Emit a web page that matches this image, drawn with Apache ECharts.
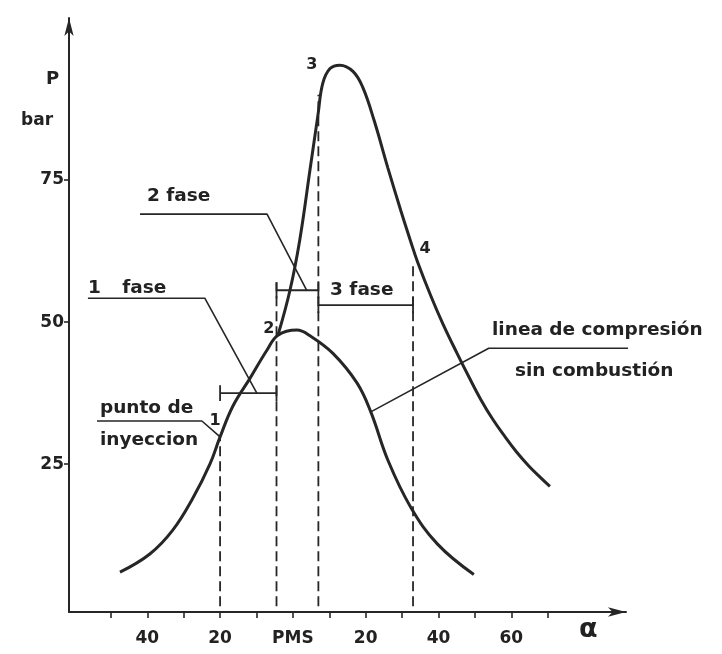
<!DOCTYPE html>
<html>
<head>
<meta charset="utf-8">
<script src="https://cdn.jsdelivr.net/npm/echarts@6/dist/echarts.min.js"></script>
<style>
  html, body { margin: 0; padding: 0; background: #ffffff; }
  #chart { width: 722px; height: 654px; }
</style>
</head>
<body>
<div id="chart"></div>
<script>
// Crank angle in degrees (negative = before PMS) and cylinder pressure in bar.

// Compression line without combustion (shared with the real cycle up to point 2)
const compressionAngle = [-47.5, -39.3, -33.0, -27.5, -22.8, -20.0, -16.5, -11.8, -7.1, -4.1, 1.1, 4.7, 11.0, 17.6, 21.4, 26.1, 32.4, 39.8, 49.7];
const compressionP     = [  6.0,   9.2,  13.4,  19.0,  25.0,  29.8,  35.2,  40.1, 45.1, 47.7, 48.6, 47.6, 44.5, 39.3, 34.2, 25.7, 17.4, 10.9,  5.6];

// Pressure with combustion, from point 2 onwards
const combustionAngle = [-4.1, -0.8,  1.9,  4.7,  6.9,  8.2, 10.2, 12.9, 16.5, 19.2, 22.3, 26.1, 29.7, 32.4, 34.3, 37.9, 41.2, 45.1, 48.4, 51.6, 54.9, 58.2, 61.5, 64.8, 68.1, 70.6];
const combustionP     = [47.7, 55.6, 64.5, 76.8, 86.5, 92.0, 94.6, 95.2, 94.1, 91.3, 85.5, 77.1, 69.5, 64.1, 60.5, 54.6, 49.7, 44.5, 40.3, 36.4, 32.9, 29.9, 27.1, 24.7, 22.6, 21.1];

// Vertical reference lines (angle, top pressure)
const markAngle = [-20, -4.5, 7, 33];
const markTop   = [29.8, 57, 90, 60];

// Combustion phases: start angle, end angle, pressure level of the bracket
const phaseStart = [-20, -4.5, 7];
const phaseEnd   = [-4.5, 7, 33];
const phaseLevel = [37.5, 55.6, 53.0];

// Axis ticks and labels
const xTickValues  = [-50, -40, -30, -20, -10, 0, 10, 20, 30, 40, 50, 60, 70];
const xLabelValues = [-40, -20, 0, 20, 40, 60];
const xLabelText   = ['40', '20', 'PMS', '20', '40', '60'];
const yTickValues  = [25, 50, 75];

// Leader lines for the notes
const leaderFase1 = [[-56.3, 54.2], [-24.2, 54.2], [-9.9, 37.5]];
const leaderFase2 = [[-42.0, 69.0], [-7.1, 69.0], [3.8, 55.6]];
const leaderInj   = [[-53.8, 32.6], [-25.0, 32.6], [-20.0, 29.8]];
const leaderComp  = [[117.9, 45.4], [53.8, 45.4], [21.4, 34.2]];

// Notes: text and anchor (left edge, vertical centre) in data space
const noteText  = ['1', 'fase', '2 fase', '3 fase', 'punto de', 'inyeccion', 'linea de compresión', 'sin combustión'];
const noteAngle = [-56.3, -46.9, -40.1, 10.2, -53.0, -53.0, 54.7, 61.0];
const noteP     = [56.0, 56.0, 72.2, 55.6, 34.9, 29.2, 48.6, 41.4];

const pointText  = ['1', '2', '3', '4'];
const pointAngle = [-21.4, -6.6, 5.2, 36.3];
const pointP     = [32.6, 48.9, 95.2, 62.9];

const INK = '#262626';
const TEXT = '#222222';
const FONT = 'DejaVu Sans';

function zip(a, b) { return a.map((v, i) => [v, b[i]]); }

function lineSeries(data, width, dashed) {
  return {
    type: 'line',
    data: data,
    symbol: 'none',
    silent: true,
    clip: false,
    animation: false,
    lineStyle: { color: INK, width: width, type: dashed ? [10, 5] : 'solid', cap: 'butt' }
  };
}

function textSeries(texts, xs, ys, position, size) {
  return {
    type: 'scatter',
    symbolSize: 0,
    silent: true,
    clip: false,
    animation: false,
    itemStyle: { opacity: 1 },
    data: texts.map((t, i) => ({ value: [xs[i], ys[i]], name: t })),
    label: {
      show: true, position: position, distance: 0, opacity: 1,
      formatter: p => p.name,
      color: TEXT, fontFamily: FONT, fontWeight: 'bold', fontSize: size
    }
  };
}

const series = [];

// main curves
const comp = lineSeries(zip(compressionAngle, compressionP), 3);
comp.smooth = 0.4;
series.push(comp);
const comb = lineSeries(zip(combustionAngle, combustionP), 3);
comb.smooth = 0.4;
series.push(comb);

// dashed verticals
markAngle.forEach((a, i) => series.push(lineSeries([[a, 0], [a, markTop[i]]], 1.8, true)));

// phase brackets with end bars
phaseStart.forEach((s, i) => {
  const e = phaseEnd[i], p = phaseLevel[i];
  series.push(lineSeries([[s, p], [e, p]], 1.8));
  series.push(lineSeries([[s, p - 1.4], [s, p + 1.4]], 1.8));
  series.push(lineSeries([[e, p - 1.4], [e, p + 1.4]], 1.8));
});

// leader lines
[leaderFase1, leaderFase2, leaderInj, leaderComp].forEach(l => series.push(lineSeries(l, 1.6)));

// notes and point numbers
series.push(textSeries(noteText, noteAngle, noteP, 'right', 18.5));
series.push(textSeries(pointText, pointAngle, pointP, 'inside', 16));

const chart = echarts.init(document.getElementById('chart'), null, { renderer: 'canvas' });
chart.setOption({
  backgroundColor: '#ffffff',
  animation: false,
  grid: { left: 69, top: 18, width: 557, height: 594, containLabel: false },
  xAxis: {
    type: 'value',
    min: -61.5, max: 91.5,
    splitLine: { show: false },
    axisLine: { show: true, onZero: false, lineStyle: { color: INK, width: 2 }, symbol: ['none', 'arrow'], symbolSize: [7, 18] },
    axisTick: { show: true, customValues: xTickValues, length: 6, lineStyle: { color: INK, width: 1.6 } },
    axisLabel: {
      show: true, customValues: xLabelValues, margin: 18,
      formatter: v => xLabelText[xLabelValues.indexOf(Math.round(v))],
      color: TEXT, fontFamily: FONT, fontWeight: 'bold', fontSize: 17
    }
  },
  yAxis: {
    type: 'value',
    min: -1, max: 103.5,
    splitLine: { show: false },
    axisLine: { show: true, onZero: false, lineStyle: { color: INK, width: 2 }, symbol: ['none', 'arrow'], symbolSize: [7, 18] },
    axisTick: { show: true, customValues: yTickValues, length: 5, lineStyle: { color: INK, width: 1.6 } },
    axisLabel: {
      show: true, customValues: yTickValues, margin: 5,
      color: TEXT, fontFamily: FONT, fontWeight: 'bold', fontSize: 17
    }
  },
  graphic: [
    { type: 'text', left: 46, top: 70, style: { text: 'P', fill: TEXT, font: 'bold 18px "DejaVu Sans"' } },
    { type: 'text', left: 21, top: 112, style: { text: 'bar', fill: TEXT, font: 'bold 17px "DejaVu Sans"' } },
    { type: 'text', left: 579, top: 616, style: { text: 'α', fill: TEXT, font: 'bold 27px "DejaVu Sans"' } }
  ],
  series: series
});
</script>
</body>
</html>
